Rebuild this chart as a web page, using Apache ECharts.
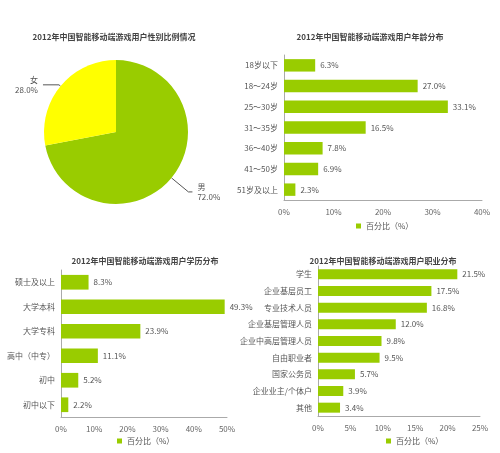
<!DOCTYPE html>
<html><head><meta charset="utf-8">
<script src="https://cdn.jsdelivr.net/npm/echarts@6/dist/echarts.min.js"></script>
<style>html,body{margin:0;padding:0;background:#fff}#c{width:500px;height:453px}</style>
</head><body><div id="c"></div>
<script>
const genderNames = ['男', '女'];
const genderValues = [72.0, 28.0];
const ageCats = ['18岁以下', '18～24岁', '25～30岁', '31～35岁', '36～40岁', '41～50岁', '51岁及以上'];
const ageValues = [6.3, 27.0, 33.1, 16.5, 7.8, 6.9, 2.3];
const eduCats = ['硕士及以上', '大学本科', '大学专科', '高中（中专）', '初中', '初中以下'];
const eduValues = [8.3, 49.3, 23.9, 11.1, 5.2, 2.2];
const jobCats = ['学生', '企业基层员工', '专业技术人员', '企业基层管理人员', '企业中高层管理人员', '自由职业者', '国家公务员', '企业业主/个体户', '其他'];
const jobValues = [21.5, 17.5, 16.8, 12.0, 9.8, 9.5, 5.7, 3.9, 3.4];
const seriesName = '百分比（%）';
const titles = ['2012年中国智能移动端游戏用户性别比例情况', '2012年中国智能移动端游戏用户年龄分布', '2012年中国智能移动端游戏用户学历分布', '2012年中国智能移动端游戏用户职业分布'];

const FONT = '"Noto Sans CJK SC", "Noto Sans", sans-serif';
const GREEN = '#99cc00';
const chart = echarts.init(document.getElementById('c'));

function xAxis(gi, max, interval) {
  return {
    type: 'value', gridIndex: gi, min: 0, max: max, interval: interval,
    axisLine: {show: true, lineStyle: {color: '#aaa'}},
    axisTick: {show: false}, splitLine: {show: false},
    axisLabel: {formatter: '{value}%', color: '#666', fontSize: 8, fontFamily: FONT, margin: 8}
  };
}
function yAxis(gi, cats) {
  return {
    type: 'category', gridIndex: gi, data: cats, inverse: true,
    axisLine: {show: true, lineStyle: {color: '#aaa'}},
    axisTick: {show: false},
    axisLabel: {color: '#555', fontSize: 8, fontFamily: FONT, margin: 6}
  };
}
function bar(gi, vals) {
  return {
    type: 'bar', name: seriesName, xAxisIndex: gi, yAxisIndex: gi, data: vals,
    barCategoryGap: '40%', itemStyle: {color: GREEN},
    label: {show: true, position: 'right', color: '#555', fontSize: 8, fontFamily: FONT,
      formatter: p => p.value.toFixed(1) + '%'}
  };
}
function title(text, cx, y) {
  return {text: text, left: cx, top: y, textAlign: 'center',
    textStyle: {fontSize: 8, fontWeight: 'bold', color: '#444', fontFamily: FONT}};
}
function legend(x, y) {
  return {data: [seriesName], left: x, top: y, icon: 'rect', itemWidth: 5, itemHeight: 5, itemGap: 4,
    textStyle: {fontSize: 8, color: '#555', fontFamily: FONT}};
}
const pieLines = [{length: 22, length2: 4}, {length: 2, length2: 16}];

chart.setOption({
  animation: false,
  title: [title(titles[0], 109, 28), title(titles[1], 365, 28), title(titles[2], 140, 252), title(titles[3], 378, 252)],
  legend: [legend(351, 217), legend(112, 432), legend(381, 432)],
  grid: [
    {left: 284, right: 18, top: 55, bottom: 253},
    {left: 61, right: 273, top: 270, bottom: 36},
    {left: 318, right: 20, top: 266, bottom: 37}
  ],
  xAxis: [xAxis(0, 40, 10), xAxis(1, 50, 10), xAxis(2, 25, 5)],
  yAxis: [yAxis(0, ageCats), yAxis(1, eduCats), yAxis(2, jobCats)],
  series: [
    {
      type: 'pie', center: [116, 132], radius: 72, startAngle: 90, clockwise: true,
      data: genderNames.map((n, i) => ({name: n, value: genderValues[i], labelLine: pieLines[i]})),
      color: [GREEN, '#ffff00'],
      label: {show: true, color: '#555', fontSize: 8, fontFamily: FONT, lineHeight: 10, overflow: 'none',
        formatter: p => p.name + '\n' + p.value.toFixed(1) + '%'},
      labelLine: {length: 10, length2: 14, lineStyle: {color: '#555', width: 1}}
    },
    bar(0, ageValues), bar(1, eduValues), bar(2, jobValues)
  ]
});
</script></body></html>
